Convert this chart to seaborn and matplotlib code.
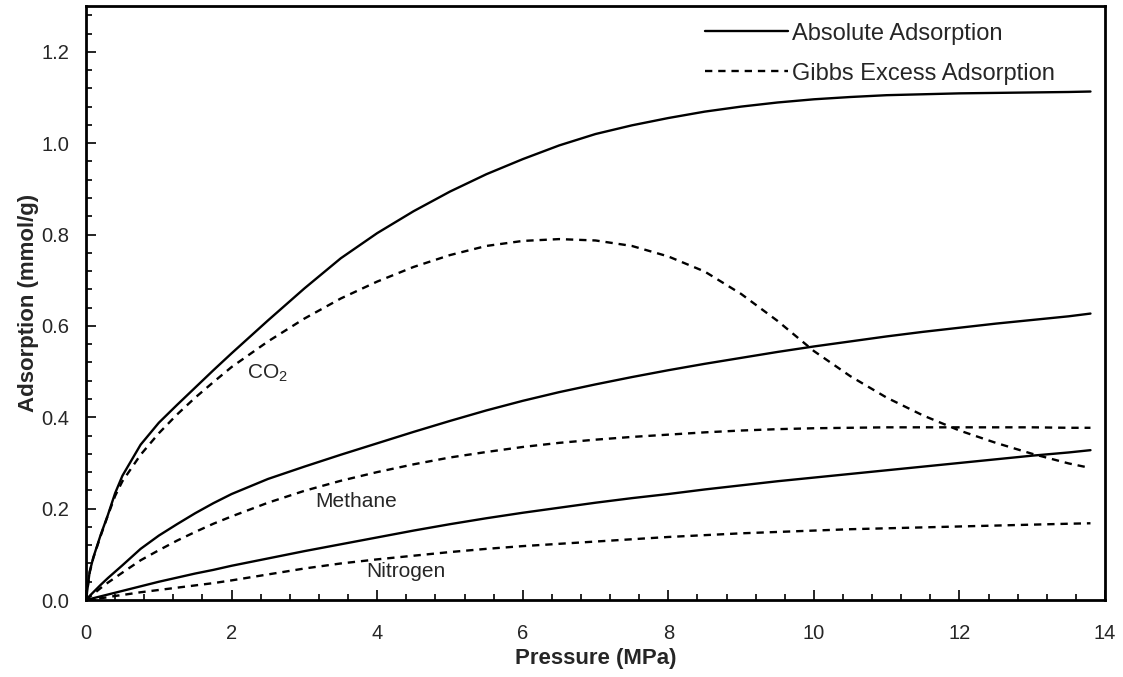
"""Absolute vs Gibbs excess adsorption isotherms for CO2, methane and nitrogen."""
import matplotlib
matplotlib.use("Agg")
import matplotlib.pyplot as plt
import pandas as pd
import seaborn as sns
from matplotlib.ticker import MultipleLocator, FormatStrFormatter

# Pressure grid (MPa) shared by all curves
pressure = [0, 0.05, 0.1, 0.2, 0.3, 0.4, 0.5, 0.75, 1, 1.25, 1.5, 1.75, 2,
            2.5, 3, 3.5, 4, 4.5, 5, 5.5, 6, 6.5, 7, 7.5, 8, 8.5, 9, 9.5, 10,
            10.5, 11, 11.5, 12, 12.5, 13, 13.5, 13.8]

# adsorption (mmol/g)
co2_abs = [0, 0.062, 0.093, 0.142, 0.186, 0.234, 0.272, 0.340, 0.388, 0.427,
           0.465, 0.503, 0.540, 0.612, 0.682, 0.748, 0.803, 0.851, 0.894, 0.932,
           0.965, 0.995, 1.020, 1.039, 1.055, 1.069, 1.080, 1.089, 1.096, 1.101,
           1.105, 1.107, 1.109, 1.110, 1.111, 1.112, 1.113]
co2_excess = [0, 0.06, 0.092, 0.14, 0.185, 0.228, 0.26, 0.318, 0.365, 0.406,
              0.443, 0.477, 0.51, 0.566, 0.616, 0.66, 0.697, 0.729, 0.755, 0.775,
              0.786, 0.790, 0.787, 0.775, 0.752, 0.719, 0.670, 0.611, 0.545, 0.49,
              0.443, 0.404, 0.371, 0.344, 0.320, 0.299, 0.289]
ch4_abs = [0, 0.009, 0.017, 0.033, 0.048, 0.062, 0.076, 0.112, 0.141, 0.166,
           0.19, 0.212, 0.232, 0.265, 0.292, 0.318, 0.343, 0.368, 0.392, 0.415,
           0.436, 0.455, 0.472, 0.488, 0.503, 0.517, 0.530, 0.543, 0.555, 0.566,
           0.577, 0.587, 0.596, 0.605, 0.613, 0.621, 0.627]
ch4_excess = [0, 0.007, 0.013, 0.026, 0.038, 0.049, 0.06, 0.087, 0.109, 0.13,
              0.149, 0.167, 0.183, 0.213, 0.239, 0.261, 0.28, 0.297, 0.312, 0.324,
              0.335, 0.344, 0.351, 0.357, 0.362, 0.367, 0.371, 0.374, 0.376, 0.377,
              0.378, 0.378, 0.378, 0.378, 0.378, 0.377, 0.377]
n2_abs = [0, 0.002, 0.004, 0.008, 0.012, 0.016, 0.02, 0.03, 0.04, 0.049, 0.058,
          0.066, 0.075, 0.091, 0.107, 0.122, 0.137, 0.152, 0.166, 0.179, 0.191,
          0.202, 0.213, 0.223, 0.232, 0.242, 0.251, 0.260, 0.268, 0.276, 0.284,
          0.292, 0.300, 0.308, 0.316, 0.323, 0.328]
n2_excess = [0, 0.001, 0.002, 0.004, 0.006, 0.009, 0.011, 0.017, 0.022, 0.027,
             0.032, 0.037, 0.043, 0.056, 0.069, 0.080, 0.089, 0.097, 0.105, 0.112,
             0.118, 0.123, 0.128, 0.133, 0.138, 0.142, 0.146, 0.149, 0.152, 0.155,
             0.157, 0.159, 0.161, 0.163, 0.165, 0.167, 0.168]

gas_labels = ["CO$_\\mathrm{2}$", "Methane", "Nitrogen"]
label_pos = [(2.21, 0.497), (3.15, 0.215), (3.85, 0.062)]

sns.set_theme(style="ticks")
plt.rcParams["font.family"] = ["Liberation Sans", "DejaVu Sans"]
plt.rcParams["mathtext.fontset"] = "custom"
plt.rcParams["mathtext.rm"] = "Liberation Sans"

fig = plt.figure(figsize=(11.23, 6.77), dpi=100)
ax = fig.add_axes([0.0766, 0.1137, 0.9074, 0.8773])

dash = (0, (3.1, 2.5))
series = [(co2_abs, co2_excess), (ch4_abs, ch4_excess), (n2_abs, n2_excess)]
for i, (a, e) in enumerate(series):
    df = pd.DataFrame({"p": pressure, "abs": a, "exc": e})
    sns.lineplot(data=df, x="p", y="abs", ax=ax, color="black", lw=1.7,
                 label="Absolute Adsorption" if i == 0 else None)
    sns.lineplot(data=df, x="p", y="exc", ax=ax, color="black", lw=1.7,
                 linestyle=dash,
                 label="Gibbs Excess Adsorption" if i == 0 else None)

for name, (x, y) in zip(gas_labels, label_pos):
    ax.text(x, y, name, fontsize=15, va="center", ha="left")

ax.set_xlim(0, 14)
ax.set_ylim(0, 1.3)
ax.xaxis.set_major_locator(MultipleLocator(2))
ax.xaxis.set_minor_locator(MultipleLocator(0.4))
ax.yaxis.set_major_locator(MultipleLocator(0.2))
ax.yaxis.set_minor_locator(MultipleLocator(0.04))
ax.yaxis.set_major_formatter(FormatStrFormatter("%.1f"))
ax.tick_params(which="both", direction="in", color="black", labelsize=14.5,
               width=1.2)
ax.tick_params(which="major", length=7)
ax.tick_params(which="minor", length=4)
ax.tick_params(axis="x", which="major", pad=17)
ax.tick_params(axis="y", which="major", pad=12)
for side in ax.spines.values():
    side.set_linewidth(2)
    side.set_color("black")

ax.set_xlabel("Pressure (MPa)", fontsize=16, fontweight="bold", labelpad=4)
ax.set_ylabel("Adsorption (mmol/g)", fontsize=16, fontweight="bold", labelpad=2)

ax.legend(loc="upper left", bbox_to_anchor=(0.6075, 0.972), frameon=False,
          fontsize=17, handlelength=3.5, handletextpad=0.2, labelspacing=0.76,
          borderpad=0, borderaxespad=0)

fig.savefig("out.png", dpi=100)
